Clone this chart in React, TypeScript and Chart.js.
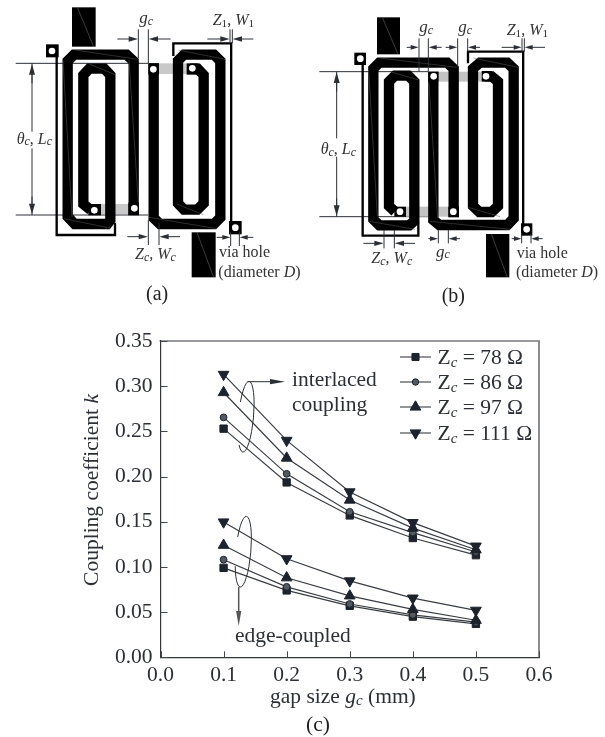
import React, { useEffect, useRef } from "react";
import { Chart, registerables } from "chart.js";
import { drawPoint } from "chart.js/helpers";

Chart.register(...registerables);

const gaps = [0.1, 0.2, 0.3, 0.4, 0.5];
const interlaced78 = [0.253, 0.1935, 0.157, 0.132, 0.113];
const interlaced86 = [0.2655, 0.203, 0.161, 0.138, 0.1165];
const interlaced97 = [0.293, 0.2205, 0.174, 0.143, 0.119];
const interlaced111 = [0.313, 0.24, 0.183, 0.149, 0.123];
const edge78 = [0.099, 0.074, 0.057, 0.045, 0.037];
const edge86 = [0.108, 0.078, 0.059, 0.047, 0.039];
const edge97 = [0.124, 0.088, 0.068, 0.053, 0.041];
const edge111 = [0.1497, 0.109, 0.0845, 0.0655, 0.052];
const legendLabels = ["78 Ω", "86 Ω", "97 Ω", "111 Ω"];

const INK = "#2c3036";
const MARK = "#1c232c";
const SERIF = '"Liberation Serif", serif';

type Run = { t: string; i?: boolean; s?: number; dy?: number };
type Ctx = CanvasRenderingContext2D;

function runWidth(c: Ctx, runs: Run[], size: number) {
  let w = 0;
  for (const r of runs) {
    c.font = `${r.i ? "italic " : ""}${r.s ?? size}px ${SERIF}`;
    w += c.measureText(r.t).width;
  }
  return w;
}

function text(c: Ctx, x: number, y: number, runs: Run[], size: number, color = INK) {
  c.textAlign = "left";
  c.textBaseline = "alphabetic";
  c.fillStyle = color;
  let px = x;
  for (const r of runs) {
    c.font = `${r.i ? "italic " : ""}${r.s ?? size}px ${SERIF}`;
    c.fillText(r.t, px, y + (r.dy ?? 0));
    px += c.measureText(r.t).width;
  }
}

function line(c: Ctx, pts: number[][], w: number, color = "#000") {
  c.strokeStyle = color;
  c.lineWidth = w;
  c.lineJoin = "miter";
  c.lineCap = "butt";
  c.beginPath();
  pts.forEach((p, i) => (i ? c.lineTo(p[0], p[1]) : c.moveTo(p[0], p[1])));
  c.stroke();
}

function arrow(c: Ctx, x1: number, y1: number, x2: number, y2: number, lw: number, len: number, hw: number, color = INK) {
  const a = Math.atan2(y2 - y1, x2 - x1);
  line(c, [[x1, y1], [x2 - Math.cos(a) * len * 0.5, y2 - Math.sin(a) * len * 0.5]], lw, color);
  c.fillStyle = color;
  c.beginPath();
  c.moveTo(x2, y2);
  c.lineTo(x2 - Math.cos(a) * len - Math.sin(a) * hw, y2 - Math.sin(a) * len + Math.cos(a) * hw);
  c.lineTo(x2 - Math.cos(a) * len + Math.sin(a) * hw, y2 - Math.sin(a) * len - Math.cos(a) * hw);
  c.closePath();
  c.fill();
}

function via(c: Ctx, x0: number, y0: number, x1: number, y1: number, hx: number, hy: number) {
  c.fillStyle = "#000";
  c.fillRect(x0, y0, x1 - x0, y1 - y0);
  c.fillStyle = "#fff";
  c.beginPath();
  c.arc(hx, hy, 10, 0, Math.PI * 2);
  c.fill();
}

function feed(c: Ctx, x0: number, y0: number, x1: number, y1: number) {
  c.fillStyle = "#000";
  c.fillRect(x0, y0, x1 - x0, y1 - y0);
  line(c, [[x0 + 16, y0], [x1 - 6, y1]], 1.5, "#777");
}

function seams(c: Ctx, list: number[][][]) {
  list.forEach((pts) => line(c, pts, 1.5, "#5c5c5c"));
}

const S = 31; // strip width in zoomed drawing units
const DIM = 3;

function gc(c: Ctx, x: number, y: number) {
  text(c, x, y, [{ t: "g", i: true }, { t: "c", i: true, s: 36, dy: 4 }], 51, "#333");
}
function zw(c: Ctx, x: number, y: number, a: string, b: string) {
  text(c, x, y, [{ t: "Z" , i: true }, { t: a, i: a === "c", s: a === "c" ? 36 : 34, dy: 6 }, { t: ", " }, { t: "W", i: true }, { t: b, i: b === "c", s: b === "c" ? 36 : 34, dy: 6 }], 48, "#333");
}
function thetaL(c: Ctx, x: number, y: number) {
  text(c, x, y, [{ t: "θ", i: true }, { t: "c", i: true, s: 36, dy: 5 }, { t: ", " }, { t: "L", i: true }, { t: "c", i: true, s: 36, dy: 5 }], 48, "#333");
}
function viaText(c: Ctx, x: number, y1: number, y2: number) {
  text(c, x, y1, [{ t: "via hole" }], 48, "#333");
  text(c, x - 2, y2, [{ t: "(diameter " }, { t: "D", i: true }, { t: ")" }], 48, "#333");
}

function drawA(c: Ctx) {
  c.save();
  c.scale(1 / 3, 1 / 3);
  line(c, [[47, 190], [445, 190]], DIM, INK);
  line(c, [[47, 645], [445, 645]], DIM, INK);
  line(c, [[96, 190], [96, 395]], DIM, INK);
  line(c, [[96, 445], [96, 645]], DIM, INK);
  arrow(c, 96, 250, 96, 192, DIM, 32, 9);
  arrow(c, 96, 590, 96, 643, DIM, 32, 9);
  c.fillStyle = "#c9c9c9";
  c.fillRect(303, 612, 85, 30);
  c.fillRect(477, 190, 85, 32);
  // thin lines
  line(c, [[170, 170], [170, 705], [345, 705], [345, 668]], 7);
  line(c, [[520, 168], [520, 130], [693.5, 130], [693.5, 680]], 7);
  // left resonator
  line(c, [[401, 645], [401, 184], [380, 164], [222, 164], [203, 183], [203, 650], [224, 672], [322, 672], [331, 660], [331, 225], [313, 206], [268, 206], [250, 225], [250, 612], [272, 630]], S);
  // right resonator
  line(c, [[461, 190], [461, 654], [480, 672], [642, 672], [661, 653], [661, 183], [642, 164], [552, 164], [534, 182], [534, 610], [552, 629], [592, 629], [611, 610], [611, 225], [593, 206], [570, 206]], S);
  seams(c, [
    [[225, 150], [413, 178]],
    [[192, 656], [330, 684]],
    [[268, 192], [345, 224]],
    [[530, 612], [610, 644]],
    [[535, 150], [675, 178]],
    [[447, 652], [650, 686]],
    [[189, 180], [216, 650]],
    [[387, 180], [415, 610]],
  ]);
  via(c, 138, 133, 176, 172, 156, 153);
  via(c, 265, 612, 303, 646, 283, 631);
  via(c, 385, 608, 417, 646, 403, 625);
  via(c, 445, 190, 477, 224, 460, 208);
  via(c, 560, 190, 595, 224, 577, 205);
  via(c, 687, 663, 725, 703, 706, 683);
  feed(c, 216, 22, 287, 140);
  feed(c, 575, 697, 647, 832);
  // dimension marks
  line(c, [[415, 88], [415, 175]], DIM, INK);
  line(c, [[445, 88], [445, 190]], DIM, INK);
  arrow(c, 352, 117, 414, 117, DIM, 28, 8);
  arrow(c, 512, 117, 446, 117, DIM, 28, 8);
  line(c, [[690, 88], [690, 130]], DIM, INK);
  line(c, [[697, 88], [697, 130]], DIM, INK);
  arrow(c, 622, 117, 689, 117, DIM, 28, 8);
  arrow(c, 760, 117, 698, 117, DIM, 28, 8);
  line(c, [[445, 660], [445, 735]], DIM, INK);
  line(c, [[477, 670], [477, 735]], DIM, INK);
  arrow(c, 382, 710, 444, 710, DIM, 28, 8);
  arrow(c, 540, 710, 478, 710, DIM, 28, 8);
  line(c, [[692, 695], [692, 738]], DIM, INK);
  line(c, [[718, 695], [718, 738]], DIM, INK);
  arrow(c, 650, 712, 691, 712, DIM, 24, 7);
  arrow(c, 760, 712, 719, 712, DIM, 24, 7);
  gc(c, 418, 70);
  zw(c, 638, 76, "1", "1");
  thetaL(c, 50, 431);
  zw(c, 405, 778, "c", "c");
  viaText(c, 657, 772, 830);
  text(c, 438, 901, [{ t: "(a)" }], 60, "#222");
  c.restore();
}

function drawB(c: Ctx) {
  c.save();
  c.translate(300, 0);
  c.scale(1 / 3, 1 / 3);
  line(c, [[58, 215], [385, 215]], DIM, INK);
  line(c, [[58, 650], [385, 650]], DIM, INK);
  line(c, [[110, 215], [110, 415]], DIM, INK);
  line(c, [[110, 470], [110, 650]], DIM, INK);
  arrow(c, 110, 275, 110, 217, DIM, 32, 9);
  arrow(c, 110, 595, 110, 648, DIM, 32, 9);
  // thin lines
  line(c, [[188, 190], [188, 707], [355, 707], [355, 668]], 7);
  line(c, [[504, 190], [504, 155], [669.5, 155], [669.5, 680]], 7);
  c.fillStyle = "#c4c4c4";
  c.fillRect(415, 215, 130, 30);
  c.fillRect(318, 620, 127, 30);
  // left resonator
  line(c, [[461, 650], [461, 206], [442, 188], [238, 188], [220, 206], [220, 658], [238, 676], [328, 676], [343, 662], [343, 245], [325, 227], [285, 227], [267, 245], [267, 618], [285, 635]], S);
  // right resonator
  line(c, [[400, 215], [400, 660], [418, 675], [622, 675], [641, 655], [641, 206], [622, 188], [540, 188], [519, 206], [519, 618], [538, 636], [575, 636], [594, 618], [594, 245], [575, 229], [555, 229]], S);
  seams(c, [
    [[240, 174], [470, 202]],
    [[208, 664], [345, 688]],
    [[275, 216], [355, 240]],
    [[505, 622], [600, 650]],
    [[520, 174], [655, 202]],
    [[390, 664], [630, 688]],
    [[206, 210], [232, 650]],
    [[387, 250], [413, 655]],
  ]);
  via(c, 163, 158, 198, 195, 181, 176);
  via(c, 283, 620, 318, 650, 300, 635);
  via(c, 445, 620, 477, 652, 460, 635);
  via(c, 385, 215, 415, 245, 401, 229);
  via(c, 545, 213, 575, 245, 558, 229);
  via(c, 663, 670, 697, 707, 680, 688);
  feed(c, 231, 52, 300, 163);
  feed(c, 558, 702, 628, 832);
  // dimension marks
  line(c, [[357, 115], [357, 215]], DIM, INK);
  line(c, [[385, 115], [385, 215]], DIM, INK);
  line(c, [[473, 115], [473, 200]], DIM, INK);
  line(c, [[503, 115], [503, 155]], DIM, INK);
  arrow(c, 320, 142, 356, 142, DIM, 24, 7);
  arrow(c, 425, 142, 386, 142, DIM, 24, 7);
  arrow(c, 437, 142, 472, 142, DIM, 24, 7);
  arrow(c, 540, 142, 504, 142, DIM, 24, 7);
  line(c, [[666, 115], [666, 155]], DIM, INK);
  line(c, [[673, 115], [673, 155]], DIM, INK);
  arrow(c, 605, 142, 665, 142, DIM, 24, 7);
  arrow(c, 735, 142, 674, 142, DIM, 24, 7);
  line(c, [[252, 690], [252, 745]], DIM, INK);
  line(c, [[283, 690], [283, 745]], DIM, INK);
  arrow(c, 190, 730, 251, 730, DIM, 28, 8);
  arrow(c, 345, 730, 284, 730, DIM, 28, 8);
  line(c, [[415, 690], [415, 730]], DIM, INK);
  line(c, [[445, 690], [445, 730]], DIM, INK);
  arrow(c, 385, 716, 414, 716, DIM, 24, 7);
  arrow(c, 480, 716, 446, 716, DIM, 24, 7);
  line(c, [[665, 700], [665, 730]], DIM, INK);
  line(c, [[693, 700], [693, 730]], DIM, INK);
  arrow(c, 635, 716, 664, 716, DIM, 22, 7);
  arrow(c, 728, 716, 694, 716, DIM, 22, 7);
  gc(c, 358, 97);
  gc(c, 475, 97);
  zw(c, 620, 105, "1", "1");
  thetaL(c, 62, 462);
  zw(c, 214, 790, "c", "c");
  gc(c, 408, 770);
  viaText(c, 650, 775, 830);
  text(c, 425, 905, [{ t: "(b)" }], 60, "#222");
  c.restore();
}

function ellipse(c: Ctx, cx: number, cy: number, start: number, end: number) {
  c.save();
  c.strokeStyle = INK;
  c.lineWidth = 1;
  c.beginPath();
  c.ellipse(cx, cy, 35.5, 7.5, (Math.PI / 180) * 95, start, end);
  c.stroke();
  c.restore();
}

const overlay = {
  id: "overlay",
  afterDraw(chart: any) {
    const c: Ctx = chart.ctx;
    const a = chart.chartArea;
    c.save();
    // remaining frame
    line(c, [[a.left - 1, a.top], [a.right + 1, a.top]], 1.2, "#33373c");
    line(c, [[a.right, a.top], [a.right, a.bottom]], 1.8, "#7d7f82");
    // inward tick marks
    chart.scales.y.ticks.forEach((t: any) => {
      const y = Math.round(chart.scales.y.getPixelForValue(t.value)) + 0.5;
      line(c, [[a.left, y], [a.left + 7, y]], 1, "#44484d");
    });
    chart.scales.x.ticks.forEach((t: any) => {
      const x = Math.round(chart.scales.x.getPixelForValue(t.value)) + 0.5;
      line(c, [[x, a.bottom], [x, a.bottom - 6]], 1, "#44484d");
    });
    drawA(c);
    drawB(c);
    // axis titles
    c.save();
    c.translate(98, 490);
    c.rotate(-Math.PI / 2);
    const yRuns: Run[] = [{ t: "Coupling coefficient " }, { t: "k", i: true }];
    text(c, -runWidth(c, yRuns, 21.5) / 2, 0, yRuns, 21.5);
    c.restore();
    text(c, 270, 703, [{ t: "gap size " }, { t: "g", i: true }, { t: "c", i: true, s: 15, dy: 2 }, { t: " (mm)" }], 21.5);
    text(c, 306, 731, [{ t: "(c)" }], 21.5, "#222");
    // annotation ellipses and arrows
    ellipse(c, 246, 416.7, 0.63 * Math.PI, 2.2 * Math.PI);
    ellipse(c, 243.3, 551.7, 0.63 * Math.PI, 2.36 * Math.PI);
    arrow(c, 247.5, 381.7, 285, 381.7, 1, 15, 2.6);
    arrow(c, 238.7, 587, 238.7, 626, 1.5, 15, 2.6, "#555");
    text(c, 292, 385.7, [{ t: "interlaced" }], 21.5);
    text(c, 292, 411, [{ t: "coupling" }], 21.5);
    text(c, 235, 641.7, [{ t: "edge-coupled" }], 21.5);
    // legend
    const styles = [
      { p: "rect", r: 5, rot: 0, f: MARK, b: MARK },
      { p: "circle", r: 3.2, rot: 0, f: "#555a60", b: MARK },
      { p: "triangle", r: 6.2, rot: 0, f: MARK, b: MARK },
      { p: "triangle", r: 6.2, rot: 180, f: MARK, b: MARK },
    ];
    const rows = [357, 382, 407, 433];
    legendLabels.forEach((label, i) => {
      const y = rows[i];
      line(c, [[400, y], [431, y]], 1.2, "#4a4e53");
      const st = styles[i];
      c.fillStyle = st.f;
      c.strokeStyle = st.b;
      c.lineWidth = 1;
      drawPoint(c, { pointStyle: st.p, radius: st.r, rotation: st.rot, borderWidth: 1 } as any, 415.5, y);
      text(c, 437.5, y + 7, [{ t: "Z" }, { t: "c", i: true, s: 15, dy: 3 }, { t: " = " + label }], 21.5);
    });
    c.restore();
  },
};

function ds(values: number[], style: string, radius: number, rotation: number, fill: string) {
  return {
    data: values.map((v, i) => ({ x: gaps[i], y: v })),
    showLine: true,
    borderColor: "#3a3e44",
    borderWidth: 1.2,
    pointStyle: style,
    pointRadius: radius,
    pointRotation: rotation,
    pointBackgroundColor: fill,
    pointBorderColor: MARK,
    pointBorderWidth: 1,
    tension: 0,
  };
}

export default function App() {
  const ref = useRef<HTMLCanvasElement>(null);
  useEffect(() => {
    const chart = new Chart(ref.current!, {
      type: "scatter",
      data: {
        datasets: [
          ds(interlaced111, "triangle", 6.2, 180, MARK),
          ds(interlaced97, "triangle", 6.2, 0, MARK),
          ds(interlaced86, "circle", 3.4, 0, "#555a60"),
          ds(interlaced78, "rect", 5.2, 0, MARK),
          ds(edge111, "triangle", 6.2, 180, MARK),
          ds(edge97, "triangle", 6.2, 0, MARK),
          ds(edge86, "circle", 3.4, 0, "#555a60"),
          ds(edge78, "rect", 5.2, 0, MARK),
        ],
      },
      options: {
        responsive: false,
        animation: false,
        devicePixelRatio: 1,
        layout: { autoPadding: false, padding: { left: 60, right: 66, top: 341, bottom: 0 } },
        plugins: { legend: { display: false }, title: { display: false }, tooltip: { enabled: false } },
        scales: {
          x: {
            type: "linear",
            min: 0,
            max: 0.6,
            afterFit: (s: any) => { s.height = 79.7; },
            border: { color: "#33373c", width: 1.2 },
            grid: { drawOnChartArea: false, drawTicks: false },
            ticks: {
              stepSize: 0.1,
              maxRotation: 0,
              padding: 5,
              color: INK,
              font: { family: "Liberation Serif", size: 21.5 },
              callback: (v: any) => Number(v).toFixed(1),
            },
          },
          y: {
            type: "linear",
            min: 0,
            max: 0.35,
            afterFit: (s: any) => { s.width = 100.5; },
            border: { color: "#33373c", width: 1.2 },
            grid: { drawOnChartArea: false, drawTicks: false },
            ticks: {
              stepSize: 0.05,
              padding: 8,
              color: INK,
              font: { family: "Liberation Serif", size: 21.5 },
              callback: (v: any) => Number(v).toFixed(2),
            },
          },
        },
      },
      plugins: [overlay],
    } as any);
    return () => chart.destroy();
  }, []);
  return (
    <canvas
      ref={ref}
      width={605}
      height={737}
      style={{ position: "absolute", left: 0, top: 0, width: 605, height: 737, display: "block" }}
    />
  );
}
